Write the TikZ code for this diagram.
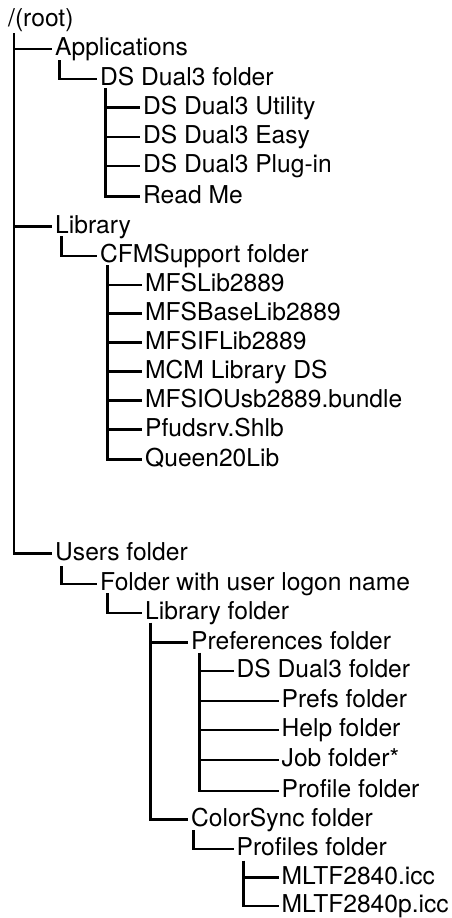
\documentclass[tikz,border=0pt]{standalone}
\usepackage{fontspec}
\setmainfont{TeX Gyre Heros}
\begin{document}
\begin{tikzpicture}[x=1pt,y=1pt,
  item/.style={anchor=west,inner xsep=3pt,inner ysep=0pt,text height=16.5pt,text depth=3.5pt,
    font=\fontsize{24.6pt}{28pt}\selectfont},
  tree/.style={draw=black,line width=2.4pt}]
\useasboundingbox (0,0) rectangle (451,-918);
% root
\node[anchor=base west,inner sep=0pt,font=\fontsize{24.6pt}{28pt}\selectfont] (root) at (8,-26) {/(root)};
% level 1
\node[item] (app)   at (52,-49)    {Applications};
\node[item] (lib)   at (52,-226.5) {Library};
\node[item] (users) at (52,-553.5) {Users folder};
% Applications subtree
\node[item] (dsf)    at (97,-79)     {DS Dual3 folder};
\node[item] (util)   at (140,-107.5) {DS Dual3 Utility};
\node[item] (easy)   at (140,-137)   {DS Dual3 Easy};
\node[item] (plug)   at (140,-166)   {DS Dual3 Plug-in};
\node[item] (readme) at (140,-196.5) {Read Me};
% Library subtree
\node[item] (cfm)    at (97,-256)    {CFMSupport folder};
\node[item] (mfslib) at (142,-285)   {MFSLib2889};
\node[item] (base)   at (142,-313.5) {MFSBaseLib2889};
\node[item] (iflib)  at (142,-342.5) {MFSIFLib2889};
\node[item] (mcm)    at (142,-371.5) {MCM Library DS};
\node[item] (iousb)  at (142,-400.5) {MFSIOUsb2889.bundle};
\node[item] (pfud)   at (142,-429.5) {Pfudsrv.Shlb};
\node[item] (queen)  at (142,-459.5) {Queen20Lib};
% Users subtree
\node[item] (logon)  at (97,-584)    {Folder with user logon name};
\node[item] (libf)   at (142,-613)   {Library folder};
\node[item] (prefs)  at (188,-642.5) {Preferences folder};
\node[item] (dsf2)   at (233.5,-671) {DS Dual3 folder};
\node[item] (prefsf) at (278.5,-701) {Prefs folder};
\node[item] (help)   at (278.5,-730) {Help folder};
\node[item] (job)    at (278.5,-760) {Job folder*};
\node[item] (profile) at (278.5,-791) {Profile folder};
\node[item] (color)  at (188,-819.5) {ColorSync folder};
\node[item] (profiles) at (233.5,-849) {Profiles folder};
\node[item] (mltf)   at (278.5,-877.5) {MLTF2840.icc};
\node[item] (mltfp)  at (278.5,-906) {MLTF2840p.icc};
% trunk tops
\coordinate (t0) at (14,-33);
\coordinate (t1) at (59.5,-60);
\coordinate (t2) at (105.5,-88);
\coordinate (t3) at (61.5,-236);
\coordinate (t4) at (107.5,-265);
\coordinate (t5) at (61.5,-566);
\coordinate (t6) at (107.5,-593);
\coordinate (t7) at (150.5,-622.5);
\coordinate (t8) at (199.5,-652.5);
\coordinate (t9) at (193.5,-830);
\coordinate (t10) at (243.5,-860.5);
% connectors
\draw[tree] (t0) |- (users.west);
\draw[tree] (app.west -| t0) -- (app.west);
\draw[tree] (lib.west -| t0) -- (lib.west);
\draw[tree] (t1) |- (dsf.west);
\draw[tree] (t2) |- (readme.west);
\foreach \n in {util,easy,plug} \draw[tree] (\n.west -| t2) -- (\n.west);
\draw[tree] (t3) |- (cfm.west);
\draw[tree] (t4) |- (queen.west);
\foreach \n in {mfslib,base,iflib,mcm,iousb,pfud} \draw[tree] (\n.west -| t4) -- (\n.west);
\draw[tree] (t5) |- (logon.west);
\draw[tree] (t6) |- (libf.west);
\draw[tree] (t7) |- (color.west);
\draw[tree] (prefs.west -| t7) -- (prefs.west);
\draw[tree] (t8) |- (profile.west);
\foreach \n in {dsf2,prefsf,help,job} \draw[tree] (\n.west -| t8) -- (\n.west);
\draw[tree] (t9) |- (profiles.west);
\draw[tree] (t10) |- (mltfp.west);
\draw[tree] (mltf.west -| t10) -- (mltf.west);
\end{tikzpicture}
\end{document}
